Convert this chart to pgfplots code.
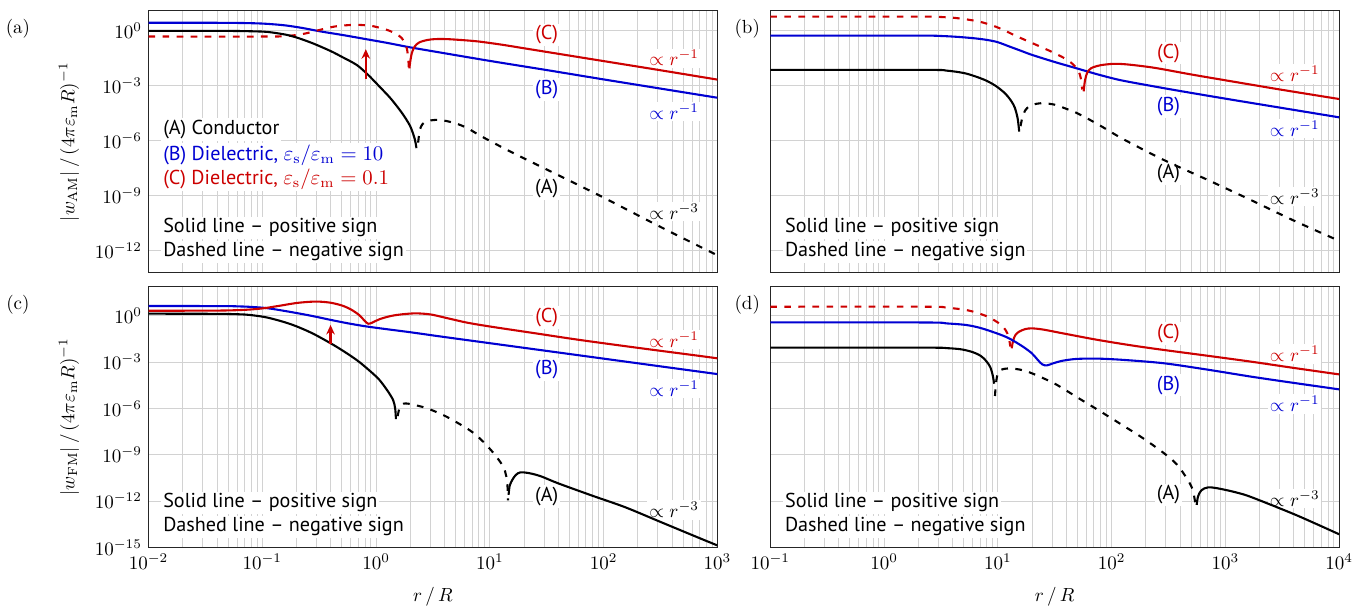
\documentclass[border=0pt]{standalone}
\usepackage{pgfplots}
\pgfplotsset{compat=1.18}
\usepackage{fontspec}
\setsansfont{PT Sans}
\usetikzlibrary{arrows.meta}
\definecolor{cred}{RGB}{204,0,0}
\definecolor{cblue}{RGB}{0,0,210}

% data are log10 values; axes are linear in log10 units
\pgfplotsset{
  panel/.style={
    scale only axis, width=299.4pt,
    xtick={-2,...,4},
    minor xtick={-1.69897,-1.52288,-1.39794,-1.30103,-1.22185,-1.15490,-1.09691,-1.04576,
                 -0.69897,-0.52288,-0.39794,-0.30103,-0.22185,-0.15490,-0.09691,-0.04576,
                 0.30103,0.47712,0.60206,0.69897,0.77815,0.84510,0.90309,0.95424,
                 1.30103,1.47712,1.60206,1.69897,1.77815,1.84510,1.90309,1.95424,
                 2.30103,2.47712,2.60206,2.69897,2.77815,2.84510,2.90309,2.95424,
                 3.30103,3.47712,3.60206,3.69897,3.77815,3.84510,3.90309,3.95424},
    xmajorgrids, xminorgrids, ymajorgrids,
    grid style={gray!35, line width=0.5pt},
    minor grid style={gray!35, line width=0.5pt},
    major tick length=0pt, minor tick length=0pt,
    axis line style={black!85, line width=0.6pt},
    anchor=north west,
  },
  rowtop/.style={height=137.9pt, ymin=-13.2, ymax=1.1, ytick={0,-3,-6,-9,-12}, xticklabels={}},
  rowbot/.style={height=137.4pt, ymin=-15, ymax=1.9, ytick={0,-3,-6,-9,-12,-15},
    xticklabel={$10^{\pgfmathprintnumber{\tick}}$},
    xlabel={$r\,/\,R$}, xlabel style={at={(axis description cs:0.5,-0.189)}, anchor=center}},
  colleft/.style={xmin=-2, xmax=3, yticklabel={$10^{\pgfmathprintnumber{\tick}}$},
    ylabel style={at={(axis description cs:-0.1399,0.5)}, anchor=center}},
  colright/.style={xmin=-1, xmax=4, yticklabels={}},
  lpos/.style={line width=1.1pt, line join=round},
  lneg/.style={line width=1.1pt, line join=round, dash pattern=on 3.5pt off 3.9pt},
}
\tikzset{
  lbl/.style={font=\sffamily\fontsize{10.6}{12.7}\selectfont, fill=white, inner sep=1pt},
  mlbl/.style={fill=white, inner sep=1pt},
}

\begin{document}
\begin{tikzpicture}
\path[use as bounding box] (0pt,0pt) rectangle (721.05pt,-318.95pt);

% ---------------- (a)
\begin{axis}[panel, rowtop, colleft, at={(78.16pt,-5.63pt)},
  ylabel={$|w_{\mathrm{AM}}|\,/\,(4\pi\varepsilon_{\mathrm{m}}R)^{-1}$}]
\node[lbl, anchor=west] at (axis cs:-1.89,-5.37) {(A) Conductor};
\node[lbl, anchor=west, text=cblue] at (axis cs:-1.89,-6.77) {(B) Dielectric, $\varepsilon_{\mathrm{s}}/\varepsilon_{\mathrm{m}} = 10$};
\node[lbl, anchor=west, text=cred] at (axis cs:-1.89,-8.09) {(C) Dielectric, $\varepsilon_{\mathrm{s}}/\varepsilon_{\mathrm{m}} = 0.1$};
\node[lbl, anchor=west] at (axis cs:-1.89,-10.75) {Solid line -- positive sign};
\node[lbl, anchor=west] at (axis cs:-1.89,-12.06) {Dashed line -- negative sign};
\node[lbl, text=cred] at (axis cs:1.5,-0.22) {(C)};
\node[lbl, text=cblue] at (axis cs:1.5,-3.19) {(B)};
\node[lbl] at (axis cs:1.5,-8.6) {(A)};
\node[mlbl, text=cred] at (axis cs:2.62,-1.49) {$\propto r^{-1}$};
\node[mlbl, text=cblue] at (axis cs:2.62,-4.41) {$\propto r^{-1}$};
\node[mlbl] at (axis cs:2.62,-9.87) {$\propto r^{-3}$};
\addplot[lpos, cblue, smooth] coordinates {(-2,0.44) (-1.4,0.44) (-1.2,0.43) (-1.05,0.41) (-0.95,0.38) (-0.8,0.3) (-0.65,0.16) (-0.48,-0.04) (-0.3,-0.22) (-0.09,-0.45) (0.1,-0.66) (0.3,-0.9) (0.6,-1.22) (1,-1.64) (1.5,-2.14) (2,-2.65) (2.5,-3.15) (3,-3.65)};
\addplot[lneg, cred, smooth] coordinates {(-2,-0.31) (-1.0,-0.31) (-0.8,-0.29) (-0.65,-0.18) (-0.56,-0.05) (-0.45,0.12) (-0.36,0.24) (-0.25,0.31) (-0.17,0.33) (-0.05,0.28) (0.05,0.14) (0.12,0.0) (0.18,-0.18) (0.227,-0.4) (0.255,-0.7) (0.272,-1.0) (0.283,-1.5) (0.288,-2.0)};
\addplot[lpos, cred, smooth] coordinates {(0.293,-2.05) (0.3,-1.7) (0.315,-1.2) (0.34,-0.85) (0.38,-0.63) (0.45,-0.5) (0.52,-0.45) (0.62,-0.45) (0.75,-0.5) (0.9,-0.58) (1.1,-0.75) (1.3,-0.95) (1.5,-1.15) (2,-1.65) (2.5,-2.15) (3,-2.66)};
\addplot[lpos, black, smooth] coordinates {(-2,0) (-1.4,0) (-1.2,-0.01) (-1.05,-0.03) (-0.95,-0.06) (-0.8,-0.2) (-0.7,-0.36) (-0.56,-0.67) (-0.4,-1.1) (-0.3,-1.42) (-0.17,-1.86) (-0.07,-2.4) (0.03,-3.04) (0.13,-3.7) (0.23,-4.5) (0.3,-5.2) (0.34,-5.9) (0.355,-6.4)};
\addplot[lneg, black, smooth] coordinates {(0.37,-6.1) (0.385,-5.4) (0.41,-5.08) (0.45,-4.93) (0.52,-4.86) (0.6,-4.9) (0.7,-5.05) (0.8,-5.3) (0.93,-5.77) (1.2,-6.65) (1.6,-7.87) (2,-9.1) (2.5,-10.7) (3,-12.25)};
\draw[cred, line width=1.1pt, -{Stealth[length=5pt,width=4.5pt]}] (axis cs:-0.09,-2.64) -- (axis cs:-0.09,-1.0);
\end{axis}

% ---------------- (b)
\begin{axis}[panel, rowtop, colright, at={(405.4pt,-5.63pt)}]
\node[lbl, anchor=west] at (axis cs:-0.89,-10.75) {Solid line -- positive sign};
\node[lbl, anchor=west] at (axis cs:-0.89,-12.06) {Dashed line -- negative sign};
\node[lbl, text=cred] at (axis cs:2.5,-1.22) {(C)};
\node[lbl, text=cblue] at (axis cs:2.5,-4.14) {(B)};
\node[lbl] at (axis cs:2.5,-7.78) {(A)};
\node[mlbl, text=cred] at (axis cs:3.61,-2.35) {$\propto r^{-1}$};
\node[mlbl, text=cblue] at (axis cs:3.61,-5.32) {$\propto r^{-1}$};
\node[mlbl] at (axis cs:3.61,-9.05) {$\propto r^{-3}$};
\addplot[lpos, cblue, smooth] coordinates {(-1,-0.26) (0.3,-0.26) (0.5,-0.28) (0.65,-0.33) (0.8,-0.41) (0.91,-0.5) (1.0,-0.62) (1.1,-0.85) (1.2,-1.08) (1.3,-1.31) (1.5,-1.7) (1.69,-2.04) (1.88,-2.38) (2.07,-2.68) (2.3,-2.95) (2.6,-3.28) (3,-3.7) (3.5,-4.21) (4,-4.72)};
\addplot[lneg, cred, smooth] coordinates {(-1,0.78) (0.3,0.78) (0.45,0.77) (0.6,0.72) (0.72,0.63) (0.84,0.5) (0.95,0.3) (1.05,0.05) (1.15,-0.25) (1.27,-0.58) (1.38,-0.88) (1.5,-1.22) (1.61,-1.58) (1.67,-1.88) (1.71,-2.2) (1.73,-2.6) (1.742,-3.2)};
\addplot[lpos, cred, smooth] coordinates {(1.755,-3.3) (1.765,-2.75) (1.785,-2.3) (1.82,-2.04) (1.9,-1.88) (2.02,-1.8) (2.15,-1.84) (2.38,-2.02) (2.7,-2.38) (3.04,-2.74) (3.5,-3.22) (4,-3.72)};
\addplot[lpos, black, smooth] coordinates {(-1,-2.13) (0.37,-2.13) (0.55,-2.17) (0.7,-2.3) (0.8,-2.48) (0.9,-2.72) (0.99,-3.04) (1.07,-3.45) (1.12,-3.85) (1.15,-4.2) (1.175,-4.8) (1.188,-5.5)};
\addplot[lneg, black, smooth] coordinates {(1.2,-5.2) (1.215,-4.75) (1.24,-4.35) (1.28,-4.1) (1.34,-3.98) (1.4,-3.95) (1.5,-4.03) (1.6,-4.25) (1.7,-4.5) (1.88,-5.1) (2.1,-5.9) (2.46,-7.05) (2.85,-8.15) (3.23,-9.25) (3.6,-10.35) (4,-11.46)};
\end{axis}

% ---------------- (c)
\begin{axis}[panel, rowbot, colleft, at={(78.16pt,-150.7pt)},
  ylabel={$|w_{\mathrm{FM}}|\,/\,(4\pi\varepsilon_{\mathrm{m}}R)^{-1}$}]
\node[lbl, anchor=west] at (axis cs:-1.89,-12.11) {Solid line -- positive sign};
\node[lbl, anchor=west] at (axis cs:-1.89,-13.66) {Dashed line -- negative sign};
\node[lbl, text=cred] at (axis cs:1.5,-0.1) {(C)};
\node[lbl, text=cblue] at (axis cs:1.5,-3.47) {(B)};
\node[lbl] at (axis cs:1.5,-11.72) {(A)};
\node[mlbl, text=cred] at (axis cs:2.62,-1.53) {$\propto r^{-1}$};
\node[mlbl, text=cblue] at (axis cs:2.62,-4.7) {$\propto r^{-1}$};
\node[mlbl] at (axis cs:2.62,-12.58) {$\propto r^{-3}$};
\addplot[lpos, cblue, smooth] coordinates {(-2,0.63) (-1.34,0.62) (-1.2,0.6) (-1.1,0.57) (-0.95,0.48) (-0.75,0.24) (-0.56,-0.02) (-0.4,-0.27) (-0.25,-0.49) (-0.09,-0.69) (0.1,-0.88) (0.3,-1.07) (0.6,-1.38) (1.0,-1.78) (1.5,-2.28) (2,-2.78) (2.5,-3.28) (3,-3.78)};
\addplot[lpos, cred, smooth] coordinates {(-2,0.32) (-1.4,0.33) (-1.15,0.38) (-0.99,0.48) (-0.85,0.64) (-0.7,0.82) (-0.58,0.9) (-0.5,0.91) (-0.4,0.84) (-0.3,0.66) (-0.22,0.4) (-0.15,0.05) (-0.1,-0.33) (-0.07,-0.52) (-0.04,-0.47) (0.03,-0.23) (0.13,-0.02) (0.23,0.09) (0.35,0.15) (0.48,0.08) (0.62,-0.15) (0.8,-0.45) (1.01,-0.71) (1.4,-1.14) (1.79,-1.57) (2.3,-2.08) (2.85,-2.61) (3,-2.76)};
\addplot[lpos, black, smooth] coordinates {(-2,0.13) (-1.4,0.12) (-1.2,0.09) (-1.1,0.04) (-0.95,-0.13) (-0.75,-0.55) (-0.56,-1.14) (-0.35,-2.0) (-0.17,-2.87) (-0.05,-3.6) (0.03,-4.16) (0.1,-4.85) (0.15,-5.46) (0.168,-6.0) (0.175,-6.7)};
\addplot[lneg, black, smooth] coordinates {(0.19,-6.5) (0.205,-6.0) (0.225,-5.75) (0.26,-5.68) (0.32,-5.75) (0.45,-6.0) (0.62,-6.54) (0.82,-7.4) (0.92,-8.0) (1.01,-8.7) (1.07,-9.25) (1.12,-9.8) (1.145,-10.4) (1.157,-11.2) (1.16,-11.95)};
\addplot[lpos, black, smooth] coordinates {(1.165,-11.6) (1.175,-11.0) (1.2,-10.6) (1.23,-10.3) (1.27,-10.14) (1.35,-10.2) (1.45,-10.4) (1.6,-10.85) (1.9,-11.65) (2.19,-12.4) (2.5,-13.35) (2.85,-14.42) (3,-14.87)};
\draw[cred, line width=1.1pt, -{Stealth[length=5pt,width=4.5pt]}] (axis cs:-0.4,-1.85) -- (axis cs:-0.4,-0.6);
\end{axis}

% ---------------- (d)
\begin{axis}[panel, rowbot, colright, at={(405.4pt,-150.7pt)}]
\node[lbl, anchor=west] at (axis cs:-0.89,-12.11) {Solid line -- positive sign};
\node[lbl, anchor=west] at (axis cs:-0.89,-13.66) {Dashed line -- negative sign};
\node[lbl, text=cred] at (axis cs:2.5,-1.14) {(C)};
\node[lbl, text=cblue] at (axis cs:2.5,-4.49) {(B)};
\node[lbl] at (axis cs:2.5,-11.61) {(A)};
\node[mlbl, text=cred] at (axis cs:3.61,-2.48) {$\propto r^{-1}$};
\node[mlbl, text=cblue] at (axis cs:3.61,-5.72) {$\propto r^{-1}$};
\node[mlbl] at (axis cs:3.61,-11.83) {$\propto r^{-3}$};
\addplot[lneg, cred, smooth] coordinates {(-1,0.58) (0.37,0.58) (0.55,0.52) (0.72,0.37) (0.82,0.18) (0.91,-0.06) (0.97,-0.3) (1.03,-0.6) (1.07,-0.95) (1.095,-1.36) (1.11,-2.0)};
\addplot[lpos, cred, smooth] coordinates {(1.122,-2.11) (1.135,-1.6) (1.155,-1.25) (1.186,-1.04) (1.24,-0.87) (1.3,-0.82) (1.4,-0.9) (1.57,-1.14) (1.88,-1.57) (2.2,-1.95) (2.46,-2.22) (2.85,-2.6) (3.23,-2.98) (3.6,-3.38) (4,-3.8)};
\addplot[lpos, cblue, smooth] coordinates {(-1,-0.43) (0.37,-0.44) (0.55,-0.5) (0.72,-0.6) (0.85,-0.8) (0.99,-1.14) (1.08,-1.4) (1.15,-1.68) (1.23,-2.05) (1.3,-2.44) (1.35,-2.85) (1.39,-3.15) (1.43,-3.22) (1.48,-3.1) (1.56,-2.93) (1.69,-2.8) (1.88,-2.78) (2.1,-2.86) (2.46,-3.08) (2.85,-3.5) (3.23,-3.95) (3.6,-4.35) (4,-4.77)};
\addplot[lpos, black, smooth] coordinates {(-1,-2.07) (0.37,-2.07) (0.55,-2.1) (0.68,-2.18) (0.78,-2.36) (0.85,-2.6) (0.9,-2.95) (0.935,-3.35) (0.955,-3.85) (0.968,-4.4)};
\addplot[lneg, black, smooth] coordinates {(0.975,-5.2) (0.985,-4.3) (1.0,-3.75) (1.03,-3.5) (1.1,-3.41) (1.2,-3.5) (1.3,-3.73) (1.5,-4.4) (1.69,-5.25) (1.88,-6.1) (2.07,-6.97) (2.27,-7.9) (2.46,-8.9) (2.57,-9.6) (2.65,-10.4) (2.71,-11.2) (2.735,-12.1)};
\addplot[lpos, black, smooth] coordinates {(2.748,-12.25) (2.76,-11.7) (2.79,-11.3) (2.85,-11.11) (2.95,-11.2) (3.1,-11.45) (3.23,-11.75) (3.62,-12.9) (4,-14.15)};
\end{axis}

\node at (9.42pt,-14.9pt) {(a)};
\node at (393.3pt,-14.9pt) {(b)};
\node at (9.42pt,-160.5pt) {(c)};
\node at (393.3pt,-160.5pt) {(d)};
\end{tikzpicture}
\end{document}
